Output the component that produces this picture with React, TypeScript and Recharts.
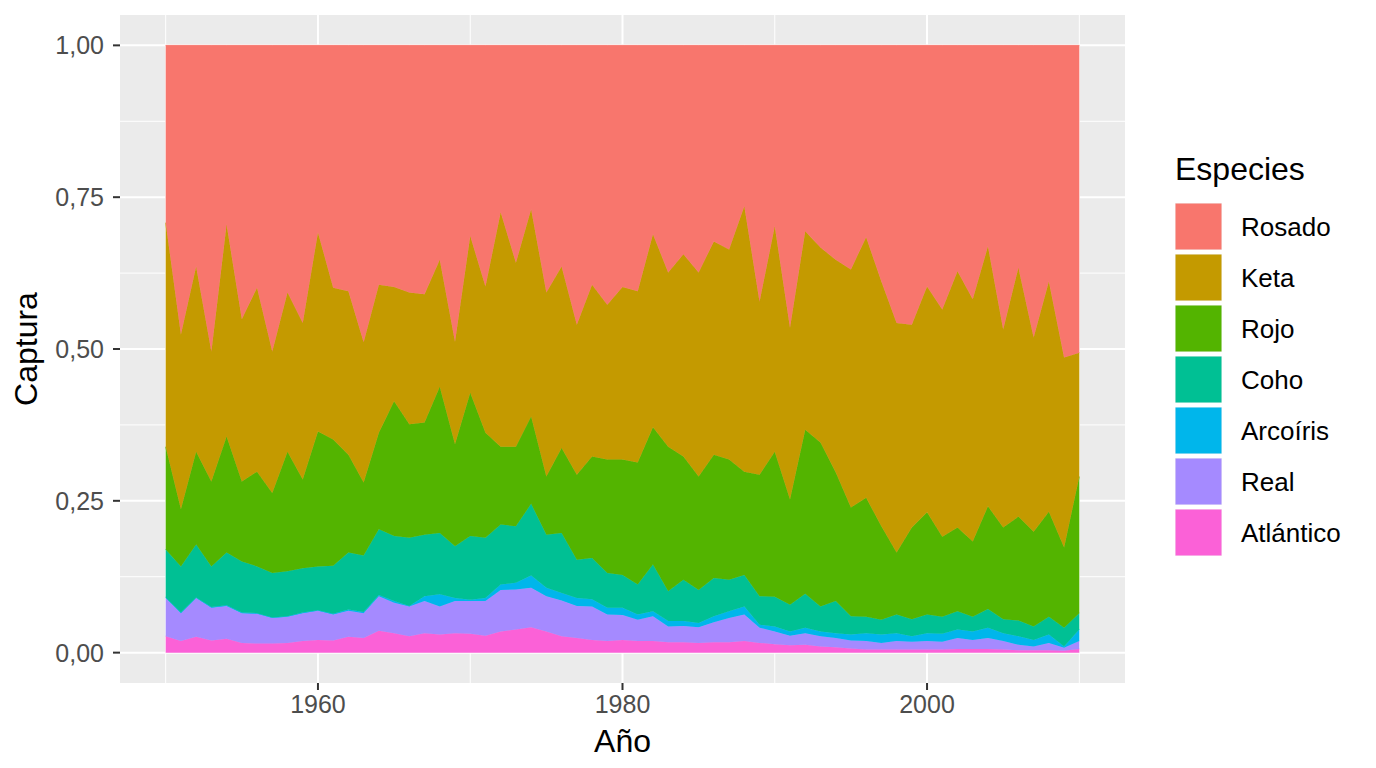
import React from "react";
import {
  AreaChart,
  Area,
  XAxis,
  YAxis,
  CartesianGrid,
  Legend,
} from "recharts";

const years = [
  1950, 1951, 1952, 1953, 1954, 1955, 1956, 1957, 1958, 1959,
  1960, 1961, 1962, 1963, 1964, 1965, 1966, 1967, 1968, 1969,
  1970, 1971, 1972, 1973, 1974, 1975, 1976, 1977, 1978, 1979,
  1980, 1981, 1982, 1983, 1984, 1985, 1986, 1987, 1988, 1989,
  1990, 1991, 1992, 1993, 1994, 1995, 1996, 1997, 1998, 1999,
  2000, 2001, 2002, 2003, 2004, 2005, 2006, 2007, 2008, 2009,
  2010,
];

const atlantico = [
  0.027, 0.019, 0.026, 0.020, 0.023, 0.016, 0.015, 0.015, 0.016, 0.019,
  0.021, 0.020, 0.026, 0.024, 0.036, 0.032, 0.027, 0.032, 0.030, 0.032,
  0.031, 0.028, 0.035, 0.038, 0.042, 0.035, 0.027, 0.024, 0.021, 0.019,
  0.021, 0.019, 0.019, 0.017, 0.017, 0.016, 0.017, 0.017, 0.019, 0.016,
  0.014, 0.012, 0.013, 0.010, 0.009, 0.007, 0.005, 0.005, 0.005, 0.005,
  0.005, 0.005, 0.006, 0.006, 0.006, 0.005, 0.004, 0.004, 0.004, 0.003,
  0.006,
];

const real = [
  0.063, 0.046, 0.064, 0.054, 0.054, 0.049, 0.049, 0.042, 0.043, 0.046,
  0.048, 0.043, 0.043, 0.041, 0.057, 0.050, 0.049, 0.053, 0.046, 0.053,
  0.054, 0.057, 0.068, 0.066, 0.065, 0.058, 0.059, 0.053, 0.055, 0.044,
  0.041, 0.035, 0.041, 0.026, 0.027, 0.026, 0.033, 0.040, 0.044, 0.025,
  0.021, 0.016, 0.019, 0.017, 0.015, 0.013, 0.014, 0.011, 0.014, 0.013,
  0.014, 0.013, 0.018, 0.015, 0.018, 0.014, 0.009, 0.006, 0.012, 0.005,
  0.013,
];

const arcoiris = [
  0.001, 0.001, 0.001, 0.001, 0.001, 0.001, 0.001, 0.001, 0.001, 0.001,
  0.001, 0.001, 0.002, 0.002, 0.002, 0.003, 0.001, 0.008, 0.020, 0.005,
  0.002, 0.005, 0.009, 0.011, 0.020, 0.014, 0.012, 0.013, 0.012, 0.011,
  0.012, 0.009, 0.008, 0.009, 0.008, 0.007, 0.010, 0.011, 0.013, 0.005,
  0.008, 0.007, 0.009, 0.008, 0.008, 0.010, 0.013, 0.014, 0.013, 0.009,
  0.013, 0.013, 0.014, 0.014, 0.017, 0.013, 0.014, 0.011, 0.014, 0.002,
  0.019,
];

const coho = [
  0.079, 0.076, 0.087, 0.067, 0.087, 0.084, 0.077, 0.073, 0.074, 0.073,
  0.072, 0.079, 0.094, 0.093, 0.108, 0.107, 0.112, 0.101, 0.101, 0.085,
  0.105, 0.099, 0.099, 0.093, 0.118, 0.087, 0.099, 0.063, 0.068, 0.057,
  0.054, 0.049, 0.077, 0.049, 0.068, 0.054, 0.063, 0.052, 0.052, 0.047,
  0.049, 0.044, 0.056, 0.041, 0.053, 0.030, 0.027, 0.024, 0.031, 0.028,
  0.031, 0.028, 0.030, 0.024, 0.031, 0.023, 0.026, 0.022, 0.029, 0.031,
  0.027,
];

const rojo = [
  0.169, 0.094, 0.153, 0.140, 0.191, 0.132, 0.156, 0.132, 0.197, 0.146,
  0.222, 0.208, 0.161, 0.120, 0.159, 0.222, 0.187, 0.185, 0.241, 0.168,
  0.236, 0.173, 0.128, 0.131, 0.144, 0.096, 0.140, 0.140, 0.167, 0.187,
  0.190, 0.201, 0.226, 0.238, 0.203, 0.187, 0.203, 0.198, 0.170, 0.200,
  0.239, 0.173, 0.270, 0.270, 0.212, 0.179, 0.196, 0.154, 0.102, 0.151,
  0.168, 0.132, 0.138, 0.124, 0.169, 0.151, 0.171, 0.156, 0.173, 0.132,
  0.225,
];

const keta = [
  0.369, 0.288, 0.305, 0.214, 0.349, 0.267, 0.303, 0.233, 0.262, 0.258,
  0.328, 0.250, 0.269, 0.231, 0.244, 0.188, 0.217, 0.211, 0.209, 0.169,
  0.258, 0.241, 0.386, 0.303, 0.341, 0.303, 0.299, 0.247, 0.283, 0.255,
  0.284, 0.282, 0.318, 0.287, 0.333, 0.336, 0.351, 0.346, 0.437, 0.285,
  0.371, 0.283, 0.327, 0.321, 0.350, 0.392, 0.429, 0.403, 0.378, 0.334,
  0.372, 0.374, 0.422, 0.399, 0.428, 0.326, 0.410, 0.320, 0.379, 0.313,
  0.204,
];

const rosado = [
  0.292, 0.476, 0.364, 0.504, 0.295, 0.451, 0.399, 0.504, 0.407, 0.457,
  0.308, 0.399, 0.405, 0.489, 0.394, 0.398, 0.407, 0.410, 0.353, 0.488,
  0.314, 0.397, 0.275, 0.358, 0.270, 0.407, 0.364, 0.460, 0.394, 0.427,
  0.398, 0.405, 0.311, 0.374, 0.344, 0.374, 0.323, 0.336, 0.265, 0.422,
  0.298, 0.465, 0.306, 0.333, 0.353, 0.369, 0.316, 0.389, 0.457, 0.460,
  0.397, 0.435, 0.372, 0.418, 0.331, 0.468, 0.366, 0.481, 0.389, 0.514,
  0.506,
];

const xTicks = [1960, 1980, 2000];
const xMinor = [1950, 1970, 1990, 2010];
const yTicks = [0, 0.25, 0.5, 0.75, 1];
const yMinor = [0.125, 0.375, 0.625, 0.875];

// stacking order: bottom to top
const series = [
  { key: "atlantico", name: "Atlántico", values: atlantico, color: "#FB61D7" },
  { key: "real", name: "Real", values: real, color: "#A58AFF" },
  { key: "arcoiris", name: "Arcoíris", values: arcoiris, color: "#00B6EB" },
  { key: "coho", name: "Coho", values: coho, color: "#00C094" },
  { key: "rojo", name: "Rojo", values: rojo, color: "#53B400" },
  { key: "keta", name: "Keta", values: keta, color: "#C49A00" },
  { key: "rosado", name: "Rosado", values: rosado, color: "#F8766D" },
];

const data = years.map((year, i) => {
  const row: Record<string, number> = { year };
  series.forEach((s) => {
    row[s.key] = s.values[i];
  });
  return row;
});

const FONT = "'Liberation Sans', Arial, Helvetica, sans-serif";

const fmt = (v: number) => v.toFixed(2).replace(".", ",");

const LegendContent = () => {
  const legendItems = [...series].reverse();
  return (
    <svg width={200} height={430} style={{ fontFamily: FONT, overflow: "visible" }}>
      <text x={0} y={40} fontSize={32} fill="#000000">
        Especies
      </text>
      {legendItems.map((s, i) => (
        <g key={s.key}>
          <rect x={0} y={63 + i * 51} width={47} height={47} fill="#F2F2F2" />
          <rect x={0.5} y={63.5 + i * 51} width={46} height={46} fill={s.color} />
          <text x={66} y={86.5 + i * 51 + 9} fontSize={26} fill="#000000">
            {s.name}
          </text>
        </g>
      ))}
    </svg>
  );
};

export default function App() {
  return (
    <div
      style={{
        position: "absolute",
        left: 0,
        top: 0,
        width: 1376,
        height: 768,
        background: "#FFFFFF",
        fontFamily: FONT,
      }}
    >
      <AreaChart
        width={1376}
        height={768}
        data={data}
        margin={{ top: 15, right: 251, bottom: 0, left: 0 }}
      >
        <CartesianGrid
          fill="#EBEBEB"
          stroke="#FFFFFF"
          strokeWidth={1}
          horizontalValues={yMinor}
          verticalValues={xMinor}
        />
        <CartesianGrid
          stroke="#FFFFFF"
          strokeWidth={2}
          horizontalValues={yTicks}
          verticalValues={xTicks}
        />
        <XAxis
          dataKey="year"
          type="number"
          domain={[1947, 2013]}
          ticks={xTicks}
          allowDataOverflow
          height={85}
          axisLine={false}
          tickLine={{ stroke: "#333333", strokeWidth: 2 }}
          tickSize={7}
          tickMargin={5}
          tick={{ fill: "#4D4D4D", fontSize: 25, fontFamily: FONT }}
          label={{
            content: (props: any) => {
              const vb = props.viewBox || {};
              return (
                <text
                  x={vb.x + vb.width / 2}
                  y={vb.y + 69}
                  textAnchor="middle"
                  fontSize={32}
                  fill="#000000"
                  fontFamily={FONT}
                >
                  Año
                </text>
              );
            },
          }}
        />
        <YAxis
          type="number"
          domain={[-0.05, 1.05]}
          ticks={yTicks}
          allowDataOverflow
          width={120}
          axisLine={false}
          tickLine={{ stroke: "#333333", strokeWidth: 2 }}
          tickSize={7}
          tickMargin={9}
          tickFormatter={fmt}
          tick={{ fill: "#4D4D4D", fontSize: 25, fontFamily: FONT }}
          label={{
            content: (props: any) => {
              const vb = props.viewBox || {};
              const cy = vb.y + vb.height / 2;
              return (
                <text
                  x={37}
                  y={cy}
                  textAnchor="middle"
                  fontSize={32}
                  fill="#000000"
                  fontFamily={FONT}
                  transform={`rotate(-90, 37, ${cy})`}
                >
                  Captura
                </text>
              );
            },
          }}
        />
        {series.map((s) => (
          <Area
            key={s.key}
            type="linear"
            dataKey={s.key}
            name={s.name}
            stackId="1"
            fill={s.color}
            fillOpacity={1}
            stroke={s.color}
            strokeWidth={0.8}
            isAnimationActive={false}
            dot={false}
            activeDot={false}
          />
        ))}
        <Legend
          layout="vertical"
          align="center"
          verticalAlign="middle"
          content={<LegendContent />}
          wrapperStyle={{ left: 1175, top: 140, width: 200, height: 430 }}
        />
      </AreaChart>
    </div>
  );
}
